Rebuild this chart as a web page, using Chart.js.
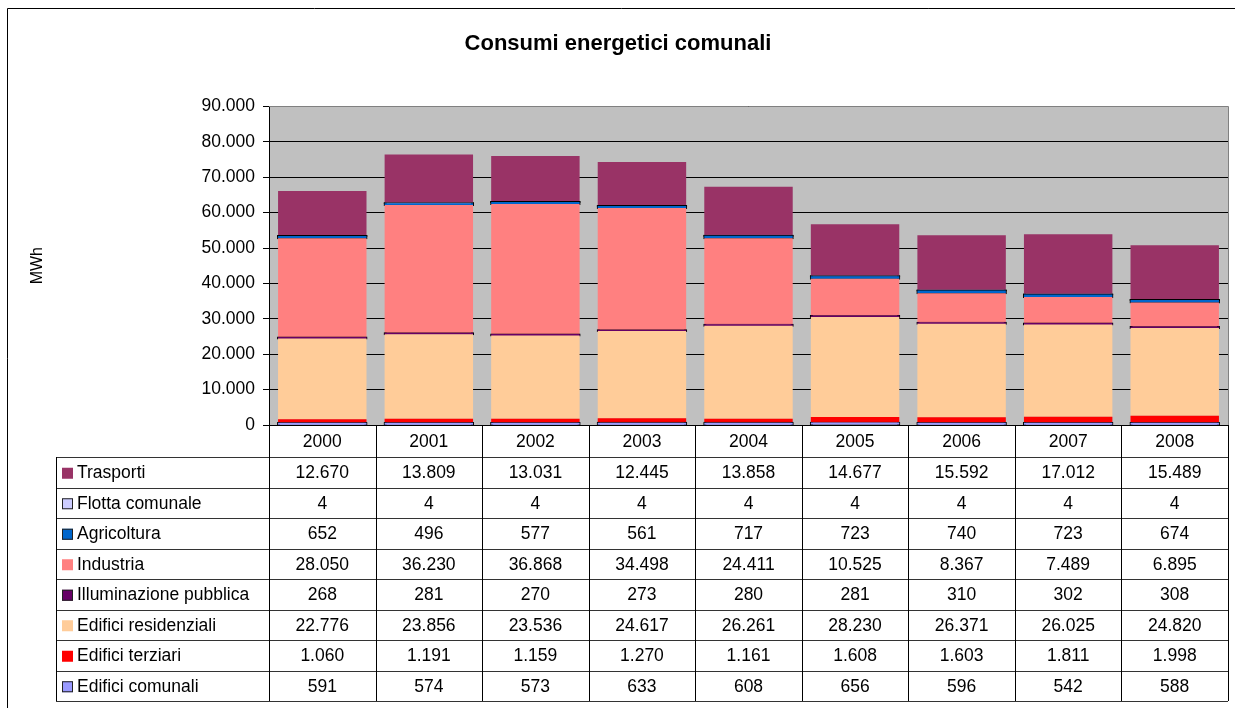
<!DOCTYPE html>
<html>
<head>
<meta charset="utf-8">
<title>Consumi energetici comunali</title>
<script src="https://cdn.jsdelivr.net/npm/chart.js@4.4.1/dist/chart.umd.min.js"></script>
<style>
  html, body { margin: 0; padding: 0; background: #fff; }
  #wrap { width: 1235px; height: 708px; position: relative; }
</style>
</head>
<body>
<div id="wrap"><canvas id="chart"></canvas></div>
<script>
// Data (MWh per anno)
const years = ["2000", "2001", "2002", "2003", "2004", "2005", "2006", "2007", "2008"];

const edificiComunali = [591, 574, 573, 633, 608, 656, 596, 542, 588];
const edificiTerziari = [1060, 1191, 1159, 1270, 1161, 1608, 1603, 1811, 1998];
const edificiResidenziali = [22776, 23856, 23536, 24617, 26261, 28230, 26371, 26025, 24820];
const illuminazione = [268, 281, 270, 273, 280, 281, 310, 302, 308];
const industria = [28050, 36230, 36868, 34498, 24411, 10525, 8367, 7489, 6895];
const agricoltura = [652, 496, 577, 561, 717, 723, 740, 723, 674];
const flotta = [4, 4, 4, 4, 4, 4, 4, 4, 4];
const trasporti = [12670, 13809, 13031, 12445, 13858, 14677, 15592, 17012, 15489];

const yTicks = [0, 10000, 20000, 30000, 40000, 50000, 60000, 70000, 80000, 90000];

const FONT = "'Liberation Sans', Arial, sans-serif";

// thousands separator with a dot, like the italian excel sheet
function fmt(n) {
    return String(n).replace(/\B(?=(\d{3})+(?!\d))/g, ".");
}

// series, bottom of the stack first
const series = [
    { label: "Edifici comunali", data: edificiComunali, color: "#9999FF", border: true },
    { label: "Edifici terziari", data: edificiTerziari, color: "#FF0000", border: false },
    { label: "Edifici residenziali", data: edificiResidenziali, color: "#FFCC99", border: false },
    { label: "Illuminazione pubblica", data: illuminazione, color: "#660066", border: true },
    { label: "Industria", data: industria, color: "#FF8080", border: false },
    { label: "Agricoltura", data: agricoltura, color: "#0066CC", border: true },
    { label: "Flotta comunale", data: flotta, color: "#CCCCFF", border: true },
    { label: "Trasporti", data: trasporti, color: "#993366", border: false }
];

// Background, plot area and outer frame
const backgroundPlugin = {
    id: "background",
    beforeDraw(chart) {
        const ctx = chart.ctx;
        const a = chart.chartArea;
        ctx.save();
        ctx.fillStyle = "#FFFFFF";
        ctx.fillRect(0, 0, chart.width, chart.height);
        ctx.fillStyle = "#C0C0C0";
        ctx.fillRect(a.left, a.top, a.right - a.left, a.bottom - a.top);
        // outer frame
        ctx.strokeStyle = "#000000";
        ctx.lineWidth = 1;
        ctx.beginPath();
        ctx.moveTo(7.5, chart.height + 2);
        ctx.lineTo(7.5, 8.5);
        ctx.lineTo(chart.width + 2, 8.5);
        ctx.stroke();
        ctx.restore();
    }
};

// Data table under the plot
const tablePlugin = {
    id: "dataTable",
    afterDraw(chart) {
        const ctx = chart.ctx;
        const a = chart.chartArea;
        const x = chart.scales.x;
        const colW = (a.right - a.left) / years.length;
        const headerBottom = 457;
        const rowH = 30.5;
        const tableLeft = 56;
        const rows = series.slice().reverse();
        const tableBottom = headerBottom + rowH * rows.length;

        ctx.save();
        // plot area border (gray, top and right)
        ctx.strokeStyle = "#808080";
        ctx.lineWidth = 1;
        ctx.beginPath();
        ctx.moveTo(a.left, Math.round(a.top) + 0.5);
        ctx.lineTo(Math.round(a.right) + 0.5, Math.round(a.top) + 0.5);
        ctx.lineTo(Math.round(a.right) + 0.5, a.bottom);
        ctx.stroke();

        // horizontal lines
        ctx.strokeStyle = "#333333";
        ctx.beginPath();
        for (let i = 0; i <= rows.length; i++) {
            const y = Math.round(headerBottom + i * rowH) + 0.5;
            ctx.moveTo(tableLeft, y);
            ctx.lineTo(a.right, y);
        }
        ctx.stroke();

        // vertical lines
        ctx.strokeStyle = "#000000";
        ctx.beginPath();
        ctx.moveTo(tableLeft + 0.5, headerBottom);
        ctx.lineTo(tableLeft + 0.5, tableBottom);
        for (let k = 0; k <= years.length; k++) {
            const xx = Math.round(a.left + k * colW) + 0.5;
            ctx.moveTo(xx, a.bottom);
            ctx.lineTo(xx, tableBottom);
        }
        ctx.stroke();

        ctx.font = "17.5px " + FONT;
        ctx.fillStyle = "#000000";
        ctx.textBaseline = "middle";

        // header (years)
        ctx.textAlign = "center";
        years.forEach((yr, i) => {
            ctx.fillText(yr, x.getPixelForValue(i), (a.bottom + headerBottom) / 2 + 1);
        });

        // rows
        rows.forEach((s, r) => {
            const cy = headerBottom + r * rowH + rowH / 2 + 1;
            // legend key
            ctx.fillStyle = s.color;
            ctx.fillRect(62, cy - 5.5, 11, 11);
            if (s.border) {
                ctx.strokeStyle = "#222222";
                ctx.strokeRect(62.5, cy - 5, 10, 10);
            }
            ctx.fillStyle = "#000000";
            ctx.textAlign = "left";
            ctx.fillText(s.label, 77, cy);
            ctx.textAlign = "center";
            s.data.forEach((v, i) => {
                ctx.fillText(fmt(v), x.getPixelForValue(i), cy);
            });
        });
        ctx.restore();
    }
};

const ctx = document.getElementById("chart").getContext("2d");

new Chart(ctx, {
    type: "bar",
    data: {
        labels: years,
        datasets: series.map(s => ({
            label: s.label,
            data: s.data,
            backgroundColor: s.color,
            borderColor: "#000000",
            borderWidth: s.border ? 1 : 0,
            borderSkipped: false,
            inflateAmount: s.border ? 1 : "auto",
            barPercentage: 0.83,
            categoryPercentage: 1.0
        }))
    },
    options: {
        responsive: true,
        maintainAspectRatio: false,
        animation: false,
        layout: {
            padding: { left: 8, right: 7, top: 8, bottom: 283 }
        },
        plugins: {
            legend: { display: false },
            tooltip: { enabled: false },
            title: {
                display: true,
                text: "Consumi energetici comunali",
                color: "#000000",
                font: { family: FONT, size: 22, weight: "bold" },
                padding: { top: 23, bottom: 49 }
            }
        },
        scales: {
            x: {
                display: false,
                stacked: true
            },
            y: {
                stacked: true,
                min: 0,
                max: 90000,
                afterBuildTicks(scale) {
                    scale.ticks = yTicks.map(v => ({ value: v }));
                },
                afterFit(scale) {
                    scale.width = 261;
                },
                ticks: {
                    color: "#000000",
                    font: { family: FONT, size: 17.5 },
                    padding: 8,
                    callback: v => fmt(v)
                },
                grid: {
                    color: "#000000",
                    lineWidth: 1,
                    tickLength: 6
                },
                border: { display: true, color: "#000000" },
                title: {
                    display: true,
                    text: "MWh",
                    color: "#000000",
                    font: { family: FONT, size: 16 },
                    padding: { top: 20, bottom: 4 }
                }
            }
        }
    },
    plugins: [backgroundPlugin, tablePlugin]
});
</script>
</body>
</html>
